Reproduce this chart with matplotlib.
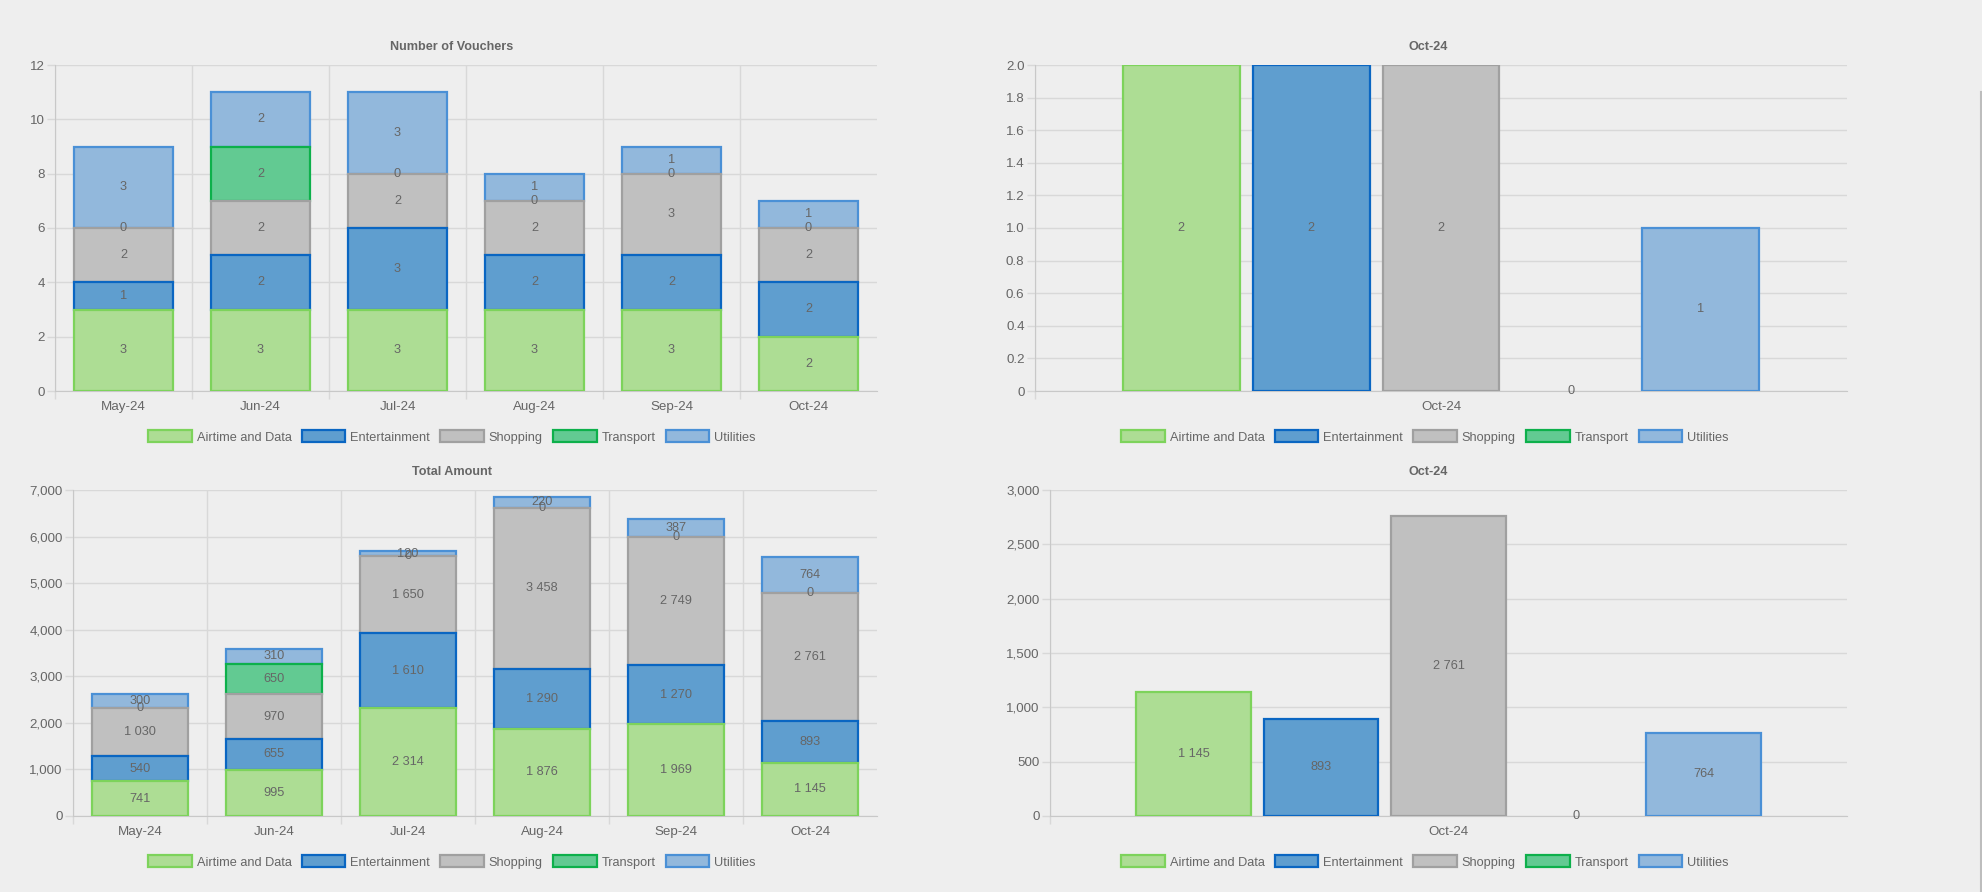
import numpy as np
import matplotlib
matplotlib.use("Agg")
import matplotlib.pyplot as plt
from matplotlib.patches import Patch
from matplotlib.lines import Line2D
from matplotlib.ticker import FuncFormatter

plt.rcParams['font.family'] = ['Liberation Sans', 'DejaVu Sans']

months = ["May-24", "Jun-24", "Jul-24", "Aug-24", "Sep-24", "Oct-24"]
categories = ["Airtime and Data", "Entertainment", "Shopping", "Transport", "Utilities"]

# number of vouchers per month
count_airtime = [3, 3, 3, 3, 3, 2]
count_entertainment = [1, 2, 3, 2, 2, 2]
count_shopping = [2, 2, 2, 2, 3, 2]
count_transport = [0, 2, 0, 0, 0, 0]
count_utilities = [3, 2, 3, 1, 1, 1]

# total amount per month
amount_airtime = [741, 995, 2314, 1876, 1969, 1145]
amount_entertainment = [540, 655, 1610, 1290, 1270, 893]
amount_shopping = [1030, 970, 1650, 3458, 2749, 2761]
amount_transport = [0, 650, 0, 0, 0, 0]
amount_utilities = [300, 310, 120, 220, 387, 764]

counts = [count_airtime, count_entertainment, count_shopping, count_transport, count_utilities]
amounts = [amount_airtime, amount_entertainment, amount_shopping, amount_transport, amount_utilities]

fill_colors = ['#addd94', '#5f9ecf', '#c0c0c0', '#62ca92', '#92b8dc']
edge_colors = ['#7dd35b', '#0a66c2', '#a0a0a0', '#0db04b', '#4a90d6']

BG = '#eeeeee'
GRID = '#d8d8d8'
TXT = '#666666'
FS = 9.2       # data labels / legend
TICK_FS = 9.6  # axis tick labels
TITLE_FS = 9.1
W, H = 1982, 892


def fx(px):
    return px / W


def fy(py):
    return 1 - py / H


def make_ax(fig, left, top, right, bottom):
    return fig.add_axes([fx(left), fy(bottom), (right - left) / W, (bottom - top) / H])


def spaced(v):
    return f"{int(v):,}".replace(",", " ")


def style_ax(ax, ncat, ymax, step, yfmt):
    ax.set_facecolor(BG)
    ax.set_xlim(-0.5, ncat - 0.5)
    ax.set_ylim(0, ymax)
    ax.set_yticks(np.arange(0, ymax + step / 2, step))
    ax.yaxis.set_major_formatter(FuncFormatter(lambda v, p: yfmt(v)))
    ax.set_xticks(np.arange(-0.5, ncat - 0.5), minor=True)
    ax.tick_params(axis='x', which='major', length=0, pad=7, labelcolor=TXT, labelsize=TICK_FS)
    ax.tick_params(axis='x', which='minor', length=6, color=GRID, width=1)
    ax.tick_params(axis='y', length=6, color=GRID, width=1, pad=1.5, labelcolor=TXT,
                   labelsize=TICK_FS)
    ax.set_axisbelow(True)
    ax.grid(True, which='minor', axis='x', color=GRID, lw=1)
    ax.grid(True, which='major', axis='y', color=GRID, lw=1)
    for s in ['top', 'right']:
        ax.spines[s].set_visible(False)
    for s in ['left', 'bottom']:
        ax.spines[s].set_color('#c8c8c8')


def stacked(ax, series):
    x = np.arange(len(months))
    bottom = np.zeros(len(months))
    for i, vals in enumerate(series):
        vals = np.array(vals, dtype=float)
        bars = ax.bar(x, vals, 0.72, bottom=bottom, color=fill_colors[i],
                      edgecolor=edge_colors[i], linewidth=1.6, zorder=10 - i)
        for p, v in zip(bars, vals):
            if v == 0:
                p.set_linewidth(0)
        ax.bar_label(bars, labels=[spaced(v) for v in vals], label_type='center',
                     color=TXT, fontsize=FS, zorder=20)
        bottom += vals
    ax.set_xticks(x)
    ax.set_xticklabels(months)


def grouped(ax, series):
    vals = [s[-1] for s in series]
    for i, v in enumerate(vals):
        off = (i - 2) * 0.16
        bars = ax.bar([off], [v], 0.144, color=fill_colors[i], edgecolor=edge_colors[i],
                      linewidth=1.6 if v else 0, zorder=5)
        ax.bar_label(bars, labels=[spaced(v)], label_type='center', color=TXT,
                     fontsize=FS, zorder=20)
    ax.set_xticks([0])
    ax.set_xticklabels([months[-1]])


fig = plt.figure(figsize=(W / 100, H / 100), dpi=100, facecolor=BG)

ax1 = make_ax(fig, 55, 65, 877, 391)
style_ax(ax1, 6, 12, 2, lambda v: f"{int(v)}")
stacked(ax1, counts)

ax2 = make_ax(fig, 1035, 65, 1847, 391)
style_ax(ax2, 1, 2, 0.2, lambda v: "0" if abs(v) < 1e-9 else f"{v:.1f}")
grouped(ax2, counts)

ax3 = make_ax(fig, 73, 490, 877, 816)
style_ax(ax3, 6, 7000, 1000, lambda v: f"{int(v):,}")
stacked(ax3, amounts)

ax4 = make_ax(fig, 1050, 490, 1847, 816)
style_ax(ax4, 1, 3000, 500, lambda v: f"{int(v):,}")
grouped(ax4, amounts)

titles = [("Number of Vouchers", 452, 47), (months[-1], 1428, 47),
          ("Total Amount", 452, 472), (months[-1], 1428, 472)]
for t, px, py in titles:
    fig.text(fx(px), fy(py), t, ha='center', va='center', fontweight='bold',
             color=TXT, fontsize=TITLE_FS)

handles = [Patch(facecolor=fill_colors[i], edgecolor=edge_colors[i], linewidth=1.6)
           for i in range(len(categories))]
for px, py in [(452, 437), (1425, 437), (452, 862), (1425, 862)]:
    fig.legend(handles, categories, loc='center', bbox_to_anchor=(fx(px), fy(py)),
               ncol=5, frameon=False, handlelength=3.4, handleheight=1.05,
               handletextpad=0.4, columnspacing=0.8, fontsize=FS,
               labelcolor=TXT, borderpad=0)

# scrollbar edge on the far right
fig.add_artist(Line2D([fx(1981), fx(1981)], [fy(92), 0], color='#bdbdbd', lw=1.5))

fig.savefig("out.png", dpi=100, facecolor=BG)
